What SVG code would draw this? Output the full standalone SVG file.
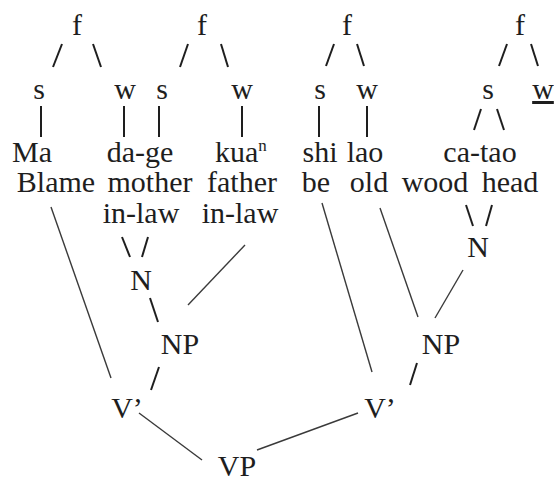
<svg xmlns="http://www.w3.org/2000/svg" width="554" height="482" viewBox="0 0 554 482">
<style>
text{font-family:"Liberation Serif","Times New Roman",serif;font-size:30px;fill:#1e1e1e;text-anchor:middle}
.s{stroke:#1e1e1e;stroke-width:2;stroke-linecap:butt;fill:none}
.l{stroke:#3a3a3a;stroke-width:1.4;fill:none}
</style>
<rect width="554" height="482" fill="#fff"/>
<g id="connectors">
<line class="s" x1="62" y1="44" x2="53" y2="67"/>
<line class="s" x1="93" y1="44" x2="101" y2="67"/>
<line class="s" x1="188" y1="44" x2="180" y2="67"/>
<line class="s" x1="221" y1="44" x2="228" y2="67"/>
<line class="s" x1="334" y1="44" x2="326" y2="66"/>
<line class="s" x1="357" y1="44" x2="364" y2="66"/>
<line class="s" x1="507" y1="44" x2="499" y2="66"/>
<line class="s" x1="531" y1="44" x2="538" y2="66"/>
<line class="s" x1="41" y1="106" x2="41" y2="137"/>
<line class="s" x1="124" y1="106" x2="124" y2="137"/>
<line class="s" x1="159" y1="106" x2="159" y2="137"/>
<line class="s" x1="242" y1="106" x2="242" y2="137"/>
<line class="s" x1="319" y1="106" x2="319" y2="137"/>
<line class="s" x1="367" y1="106" x2="367" y2="137"/>
<line class="s" x1="481" y1="109" x2="474" y2="130"/>
<line class="s" x1="497" y1="109" x2="504" y2="130"/>
<line class="s" x1="122" y1="237" x2="130" y2="257"/>
<line class="s" x1="148" y1="237" x2="142" y2="257"/>
<line class="s" x1="150" y1="298" x2="158" y2="322"/>
<line class="s" x1="159" y1="367" x2="151" y2="390"/>
<line class="s" x1="466" y1="205" x2="473" y2="226"/>
<line class="s" x1="492" y1="205" x2="486" y2="226"/>
<line class="s" x1="417" y1="363" x2="410" y2="385"/>
<line class="l" x1="51" y1="207" x2="111" y2="378"/>
<line class="l" x1="245" y1="245" x2="188" y2="305"/>
<line class="l" x1="139" y1="413" x2="202" y2="460"/>
<line class="l" x1="257" y1="450" x2="358" y2="413"/>
<line class="l" x1="322" y1="203" x2="372" y2="372"/>
<line class="l" x1="380" y1="208" x2="418" y2="317"/>
<line class="l" x1="463" y1="270" x2="435" y2="318"/>
</g>
<g id="f1"><text x="77" y="35">f</text></g>
<g id="f2"><text x="202" y="35">f</text></g>
<g id="f3"><text x="347" y="35">f</text></g>
<g id="f4"><text x="520" y="35">f</text></g>
<g id="s1"><text x="39" y="99">s</text></g>
<g id="w1"><text x="125" y="99">w</text></g>
<g id="s2"><text x="162" y="99">s</text></g>
<g id="w2"><text x="242" y="99">w</text></g>
<g id="s3"><text x="320" y="99">s</text></g>
<g id="w3"><text x="367" y="99">w</text></g>
<g id="s4"><text x="488" y="99">s</text></g>
<g id="w4"><text x="543" y="99" text-decoration="underline">w</text></g>
<g id="ma"><text x="32" y="162">Ma</text><text x="56" y="192">Blame</text></g>
<g id="dage"><text x="140" y="162">da-ge</text><text x="150" y="192">mother</text><text x="141" y="223">in-law</text></g>
<g id="kuan"><text x="215" y="162" style="text-anchor:start">kua<tspan font-size="17" dy="-11">n</tspan></text><text x="242" y="192">father</text><text x="240" y="223">in-law</text></g>
<g id="shi"><text x="320" y="162">shi</text><text x="316" y="192">be</text></g>
<g id="lao"><text x="365" y="162">lao</text><text x="369" y="192">old</text></g>
<g id="catao"><text x="480" y="162">ca-tao</text><text x="435" y="192">wood</text><text x="510" y="192">head</text></g>
<g id="N1"><text x="141" y="290">N</text></g>
<g id="N2"><text x="478" y="257">N</text></g>
<g id="NP1"><text x="180" y="354">NP</text></g>
<g id="NP2"><text x="441" y="354">NP</text></g>
<g id="V1"><text x="127" y="418">V’</text></g>
<g id="V2"><text x="380" y="418">V’</text></g>
<g id="VP"><text x="237" y="476">VP</text></g>
</svg>
